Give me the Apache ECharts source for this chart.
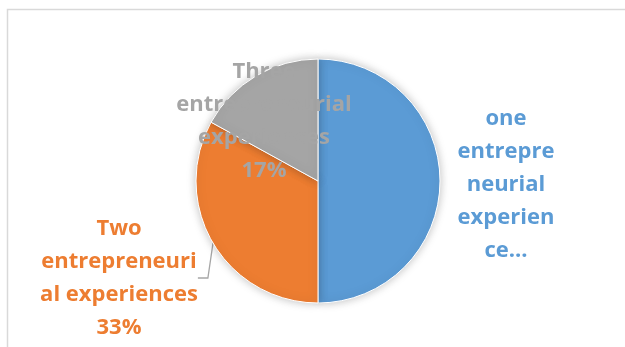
<!DOCTYPE html>
<html>
<head>
<meta charset="utf-8">
<script src="https://cdn.jsdelivr.net/npm/echarts@6/dist/echarts.min.js"></script>
<style>html,body{margin:0;padding:0;background:#fff;}#c{width:625px;height:347px;}</style>
</head>
<body>
<div id="c"></div>
<script>
const categories = ['one entrepreneurial experience', 'Two entrepreneurial experiences', 'Three entrepreneurial experiences'];
const values = [50, 33, 17];
const labelTexts = [
  'one\nentrepre\nneurial\nexperien\nce...',
  'Two\nentrepreneuri\nal experiences\n33%',
  'Three\nentrepreneurial\nexperiences\n17%'
];
const colors = ['#5B9BD5', '#ED7D31', '#A5A5A5'];
const labelPos = [[506, 185], [119, 278], [264, 121]];

const chart = echarts.init(document.getElementById('c'));
chart.setOption({
  animation: false,
  graphic: [{
    type: 'rect', shape: {x: 7.5, y: 9.5, width: 800, height: 500},
    style: {fill: 'none', stroke: '#d9d9d9', lineWidth: 1.5}, silent: true
  }],
  series: [{
    type: 'pie',
    center: [318, 181],
    radius: 122,
    startAngle: 90,
    clockwise: true,
    itemStyle: {borderColor: '#ffffff', borderWidth: 1, shadowBlur: 10, shadowColor: 'rgba(0,0,0,0.25)'},
    data: categories.map((n, i) => ({
      name: n, value: values[i],
      itemStyle: {color: colors[i]},
      label: {color: colors[i]},
      labelLine: {show: i === 1, lineStyle: {color: '#A6A6A6', width: 1.3}}
    })),
    label: {
      show: true,
      position: 'outside',
      formatter: p => labelTexts[p.dataIndex],
      fontFamily: 'Open Sans',
      fontWeight: 'bold',
      fontSize: 22,
      lineHeight: 33,
      align: 'center'
    },
    labelLine: {length: 10, length2: 10, smooth: false},
    labelLayout: p => ({
      x: labelPos[p.dataIndex][0],
      y: labelPos[p.dataIndex][1],
      align: 'center',
      verticalAlign: 'middle'
    })
  }]
});
</script>
</body>
</html>
